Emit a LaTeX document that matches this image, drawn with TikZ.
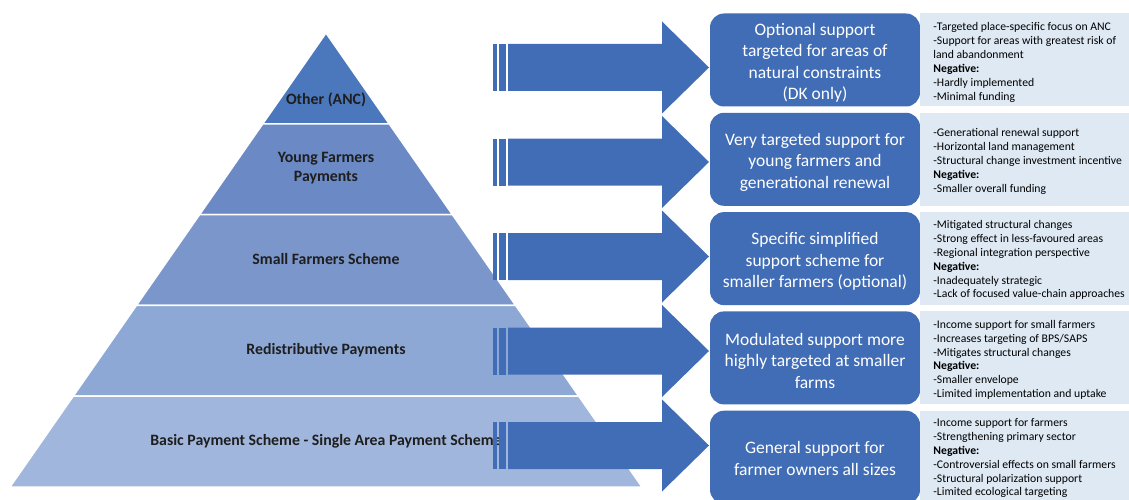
\documentclass[tikz,border=0pt]{standalone}
\usepackage{fontspec}
\setmainfont{Carlito}
\usepackage{xcolor}
\usetikzlibrary{shapes,positioning,calc}

\definecolor{bandA}{HTML}{4B77BD}
\definecolor{bandB}{HTML}{6A89C5}
\definecolor{bandC}{HTML}{7B96CB}
\definecolor{bandD}{HTML}{8DA8D5}
\definecolor{bandE}{HTML}{A1B6DC}
\definecolor{boxblue}{HTML}{416DB6}
\definecolor{paneblue}{HTML}{DEE9F4}
\definecolor{labelgray}{HTML}{1E1E1E}

\begin{document}
\begin{tikzpicture}[x=1pt, y=-1pt,
        level/.style={text=labelgray, align=center, font=\bfseries\fontsize{15.8}{18.5}\selectfont},
        optbox/.style={rectangle, rounded corners=14pt, fill=boxblue, minimum width=210pt, minimum height=93pt},
        opttext/.style={text=white, align=center, inner sep=0pt, font=\fontsize{17.5}{21.5}\selectfont},
        notebox/.style={rectangle, fill=paneblue, anchor=west, minimum width=230pt, minimum height=93pt},
        notetext/.style={anchor=west, align=left, inner sep=0pt, font=\fontsize{11.7}{13.9}\selectfont}]
        \useasboundingbox (0,0) rectangle (1129,500);

        % Pyramid
        \coordinate (apex) at (326,33);
        \coordinate (bl) at (10,487);
        \coordinate (br) at (642,487);
        \foreach \c [count=\i] in {bandA,bandB,bandC,bandD,bandE} {
            \pgfmathsetmacro{\tA}{(\i-1)/5}
            \pgfmathsetmacro{\tB}{\i/5}
            \filldraw[fill=\c, draw=white, line width=1.5pt] ($(apex)!\tA!(bl)$) -- ($(apex)!\tB!(bl)$) -- ($(apex)!\tB!(br)$) -- ($(apex)!\tA!(br)$) -- cycle;
        }
        \node [level] (l1) at (326,100) {Other (ANC)};
        \node [level] (l2) at (326,168) {Young Farmers\\Payments};
        \node [level] (l3) at (326,259) {Small Farmers Scheme};
        \node [level] (l4) at (326,350) {Redistributive Payments};
        \node [level] (l5) at (326,441) {Basic Payment Scheme - Single Area Payment Scheme};

        % Striped arrows
        \foreach \y in {67.5,162,256.5,351,445.5} {
            \begin{scope}[shift={(0,\y)}]
                \fill[boxblue] (493,-23.5) rectangle (497,23.5);
                \fill[boxblue] (499,-23.5) rectangle (506,23.5);
                \fill[boxblue] (508,-23.5) -- (662,-23.5) -- (662,-46) -- (709,0) -- (662,46) -- (662,23.5) -- (508,23.5) -- cycle;
            \end{scope}
        }

        % Support boxes
        \node [optbox] (b1) at (815,60) {};
        \node [optbox] (b2) at (815,159.3) {};
        \node [optbox] (b3) at (815,258.6) {};
        \node [optbox] (b4) at (815,357.9) {};
        \node [optbox] (b5) at (815,457.2) {};
        \node [opttext] (b1t) at ([yshift=-3pt]b1.center) {Optional support\\targeted for areas of\\natural constraints\\(DK only)};
        \node [opttext] (b2t) at ([yshift=-3pt]b2.center) {Very targeted support for\\young farmers and\\generational renewal};
        \node [opttext] (b3t) at ([yshift=-3pt]b3.center) {Specific simplified\\support scheme for\\smaller farmers (optional)};
        \node [opttext] (b4t) at ([yshift=-3pt]b4.center) {Modulated support more\\highly targeted at smaller\\farms};
        \node [opttext] (b5t) at ([yshift=-1.5pt]b5.center) {General support for\\farmer owners all sizes};

        % Notes
        \foreach \i in {1,...,5}
            \node [notebox] (n\i) at (b\i.east) {};
        \node [notetext] (n1t) at ([xshift=13pt,yshift=-2.5pt]n1.west) {-Targeted place-specific focus on ANC\\-Support for areas with greatest risk of\\land abandonment\\\textbf{Negative:}\\-Hardly implemented\\-Minimal funding};
        \node [notetext] (n2t) at ([xshift=13pt,yshift=-2pt]n2.west) {-Generational renewal support\\-Horizontal land management\\-Structural change investment incentive\\\textbf{Negative:}\\-Smaller overall funding};
        \node [notetext] (n3t) at ([xshift=13pt,yshift=-1.5pt]n3.west) {-Mitigated structural changes\\-Strong effect in less-favoured areas\\-Regional integration perspective\\\textbf{Negative:}\\-Inadequately strategic\\-Lack of focused value-chain approaches};
        \node [notetext] (n4t) at ([xshift=13pt,yshift=-2pt]n4.west) {-Income support for small farmers\\-Increases targeting of BPS/SAPS\\-Mitigates structural changes\\\textbf{Negative:}\\-Smaller envelope\\-Limited implementation and uptake};
        \node [notetext] (n5t) at ([xshift=13pt,yshift=-1pt]n5.west) {-Income support for farmers\\-Strengthening primary sector\\\textbf{Negative:}\\-Controversial effects on small farmers\\-Structural polarization support\\-Limited ecological targeting};
    \end{tikzpicture}
\end{document}
